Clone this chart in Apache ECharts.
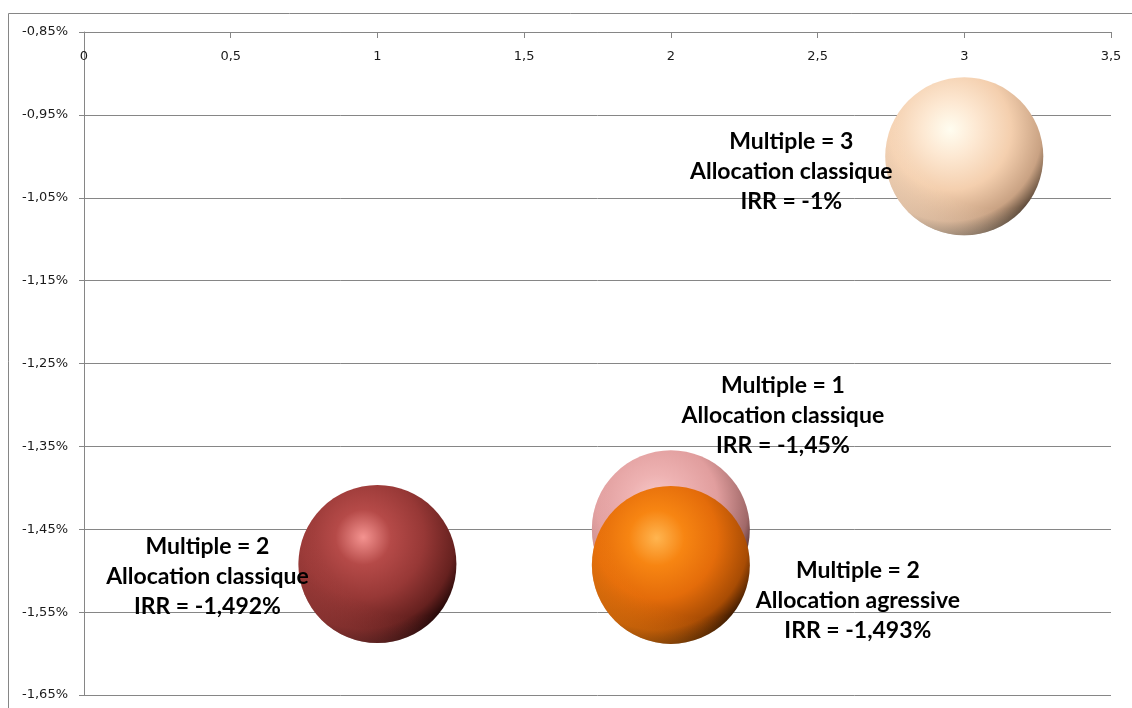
<!DOCTYPE html>
<html>
<head>
<meta charset="utf-8">
<script src="https://cdn.jsdelivr.net/npm/echarts@6/dist/echarts.min.js"></script>
<style>
  html, body { margin: 0; padding: 0; background: #ffffff; }
  #chart { width: 1132px; height: 708px; }
</style>
</head>
<body>
<div id="chart"></div>
<script>
// Portfolio scenarios: multiple vs. IRR (in %)
const multiples   = [3, 1, 2, 2];
const allocations = ['Allocation classique', 'Allocation classique', 'Allocation classique', 'Allocation agressive'];
const positions   = [3, 2, 1, 2];                       // x value of each bubble
const irrValues   = [-1, -1.45, -1.492, -1.493];        // IRR in percent
const bubbleSizes = [1, 1, 1, 1];                       // relative bubble size

// Axis ranges
const xMin = 0, xMax = 3.5, xStep = 0.5;
const yMin = -1.65, yMax = -0.85, yStep = 0.1;

// Sphere shading per bubble: highlight -> body -> shadowed rim
const palettes = [
  ['#fffdf0', '#fde8d2', '#f4cfae', '#c9a283', '#4a3a2c'],
  ['#f8cccc', '#eeb2b2', '#e19e9e', '#a06868', '#281212'],
  ['#f49390', '#b54a48', '#973836', '#66211f', '#180404'],
  ['#ffb550', '#f78512', '#e46c0a', '#a84c04', '#2c1200']
];
// Label placement around each bubble (px)
const labelOffsets = [[-173, 15], [112, -114], [-170, 13], [187, 36]];

const fmtNum = v => String(v).replace('.', ',');
const fmtPct = v => v.toFixed(2).replace('.', ',') + '%';
const alpha = (c, a) => echarts.color.modifyAlpha(c, a);

function sphere(p) {
  return {
    type: 'radial', x: 0.41, y: 0.33, r: 0.7,
    colorStops: [
      { offset: 0, color: p[0] },
      { offset: 0.25, color: p[1] },
      { offset: 0.55, color: p[2] },
      { offset: 0.83, color: p[3] },
      { offset: 1, color: p[4] }
    ]
  };
}
// Soft light bouncing on the lower-left rim, tinted with the bubble colour
function rimLight(p) {
  return {
    type: 'radial', x: 0.72, y: 0.22, r: 0.9,
    colorStops: [
      { offset: 0, color: alpha(p[1], 0) },
      { offset: 0.68, color: alpha(p[1], 0) },
      { offset: 0.86, color: alpha(p[1], 0.3) },
      { offset: 1, color: alpha(p[1], 0.5) }
    ]
  };
}

const series = [];
positions.forEach((x, i) => {
  const point = [[x, irrValues[i]]];
  const size = bubbleSizes[i] * 158;
  series.push({
    type: 'scatter', z: 2 + 2 * i, symbol: 'circle', symbolSize: size,
    data: point, silent: true,
    itemStyle: { color: sphere(palettes[i]), opacity: 1 },
    emphasis: { disabled: true }
  });
  series.push({
    type: 'scatter', z: 3 + 2 * i, symbol: 'circle', symbolSize: size,
    data: point, silent: true,
    itemStyle: { color: rimLight(palettes[i]), opacity: 1 },
    emphasis: { disabled: true }
  });
});
// Data labels drawn above every bubble
positions.forEach((x, i) => {
  series.push({
    type: 'scatter', z: 30, symbol: 'circle', symbolSize: 1,
    data: [[x, irrValues[i]]], silent: true,
    itemStyle: { color: 'rgba(0,0,0,0)', opacity: 1 },
    emphasis: { disabled: true },
    label: {
      show: true,
      position: 'inside',
      offset: labelOffsets[i],
      formatter: () => 'Multiple = ' + multiples[i] + '\n' + allocations[i] + '\nIRR = ' + fmtNum(irrValues[i]) + '%',
      color: '#000000',
      opacity: 1,
      fontFamily: 'Lato',
      fontWeight: 'bold',
      fontSize: 23,
      lineHeight: 30,
      align: 'center',
      verticalAlign: 'middle'
    }
  });
});

const chart = echarts.init(document.getElementById('chart'), null, { renderer: 'canvas' });
chart.setOption({
  animation: false,
  backgroundColor: '#ffffff',
  graphic: [{
    type: 'rect',
    shape: { x: 8.5, y: 13.5, width: 1200, height: 800 },
    style: { fill: 'none', stroke: '#868686', lineWidth: 1 },
    silent: true, z: -10
  }],
  grid: { left: 84, top: 32, right: 21, bottom: 13, containLabel: false },
  xAxis: {
    type: 'value', position: 'top',
    min: xMin, max: xMax, interval: xStep,
    axisLine: { show: true, onZero: false, lineStyle: { color: '#868686', width: 1 } },
    axisTick: { show: true, inside: true, length: 6, lineStyle: { color: '#868686' } },
    axisLabel: {
      inside: true, margin: 18,
      formatter: v => fmtNum(v),
      color: '#1a1a1a', fontFamily: 'DejaVu Sans', fontSize: 13
    },
    splitLine: { show: false }
  },
  yAxis: {
    type: 'value',
    min: yMin, max: yMax, interval: yStep,
    axisLine: { show: true, onZero: false, lineStyle: { color: '#868686', width: 1 } },
    axisTick: { show: true, inside: false, length: 5, lineStyle: { color: '#868686' } },
    axisLabel: {
      margin: 16,
      formatter: v => fmtPct(v),
      color: '#1a1a1a', fontFamily: 'DejaVu Sans', fontSize: 13
    },
    splitLine: { show: true, lineStyle: { color: '#868686', width: 1 } }
  },
  series: series
});
</script>
</body>
</html>
